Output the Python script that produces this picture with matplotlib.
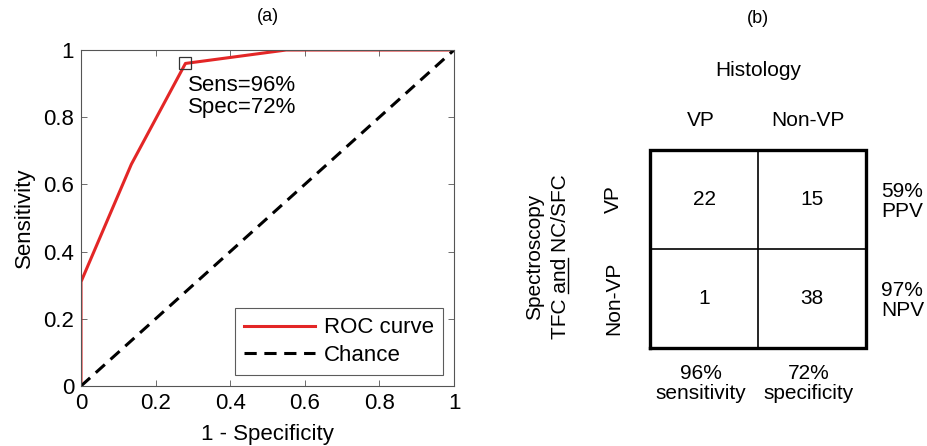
import matplotlib.pyplot as plt
from matplotlib.lines import Line2D

plt.rcParams['font.family'] = ['Liberation Sans', 'DejaVu Sans']

# ROC curve data (a)
fpr = [0.0, 0.0, 0.135, 0.28, 0.55, 1.0]
tpr = [0.0, 0.31, 0.66, 0.96, 1.0, 1.0]
chance = [0.0, 1.0]
op_point = (0.28, 0.96)
ticks = [0, 0.2, 0.4, 0.6, 0.8, 1]
tick_labels = ['0', '0.2', '0.4', '0.6', '0.8', '1']

# confusion table (b)
counts = [[22, 15], [1, 38]]
col_labels = ['VP', 'Non-VP']
row_labels = ['VP', 'Non-VP']
row_stats = ['59%\nPPV', '97%\nNPV']
col_stats = ['96%\nsensitivity', '72%\nspecificity']

fig = plt.figure(figsize=(9.27, 4.46), dpi=100)

# ---- panel (a)
big = 16
ax = fig.add_axes([81 / 927, 60 / 446, 373 / 927, 336 / 446])
ax.plot(fpr, tpr, color='#e32626', lw=2.2, label='ROC curve')
ax.plot(chance, chance, color='black', lw=2.2, ls=(0, (4, 2.5)), label='Chance')
ax.plot(*op_point, marker='s', ms=8, mfc='none', mec='#333333', mew=0.9)
ax.text(0.288, 0.925, 'Sens=96%\nSpec=72%', fontsize=big, va='top', ha='left',
        linespacing=1.05)
ax.set_xlim(0, 1)
ax.set_ylim(0, 1)
ax.set_xticks(ticks)
ax.set_xticklabels(tick_labels)
ax.set_yticks(ticks)
ax.set_yticklabels(tick_labels)
ax.tick_params(direction='in', top=True, right=True, labelsize=big, length=4,
               width=0.6, color='#555555', pad=5)
for s in ax.spines.values():
    s.set_color('#555555')
    s.set_linewidth(0.8)
ax.set_xlabel('1 - Specificity', fontsize=big, labelpad=7)
ax.set_ylabel('Sensitivity', fontsize=big, labelpad=6)
ax.set_title('(a)', fontsize=13, pad=21)
leg = ax.legend(loc='lower right', fontsize=big, fancybox=False, edgecolor='#333333',
                handlelength=3.2, borderaxespad=0.5, labelspacing=0.3,
                borderpad=0.4, handletextpad=0.4)
leg.get_frame().set_linewidth(0.8)

# ---- panel (b)
fs = 15
ax2 = fig.add_axes([650 / 927, 98 / 446, 216 / 927, 198 / 446])
ax2.set_xlim(0, 2)
ax2.set_ylim(0, 2)
ax2.axis('off')
ax2.plot([0, 2, 2, 0, 0], [0, 0, 2, 2, 0], color='black', lw=2.4, clip_on=False,
         solid_joinstyle='miter')
ax2.plot([1, 1], [0, 2], color='black', lw=1.2)
ax2.plot([0, 2], [1, 1], color='black', lw=1.2)

for i in range(2):
    for j in range(2):
        ax2.text(j + 0.5, 1.5 - i, str(counts[i][j]), fontsize=fs, ha='center', va='center')
for j, lab in enumerate(col_labels):
    ax2.text(j + 0.5 - (0.03 if j == 0 else 0.04), 2.30, lab, fontsize=fs, ha='center', va='center')
for i, lab in enumerate(row_labels):
    ax2.text(-0.34, 1.5 - i, lab, fontsize=fs, ha='center', va='center', rotation=90)
for i, lab in enumerate(row_stats):
    ax2.text(2.14, 1.48 - i, lab, fontsize=fs, ha='left', va='center', linespacing=1.05)
for j, lab in enumerate(col_stats):
    ax2.text(j + 0.47, -0.36, lab, fontsize=fs, ha='center', va='center', linespacing=1.1)
ax2.text(1.0, 2.80, 'Histology', fontsize=fs, ha='center', va='center')
ax2.text(-1.07, 0.92, 'Spectroscopy', fontsize=fs, ha='center', va='center', rotation=90)
tfc = ax2.text(-0.83, 0.92, 'TFC and NC/SFC', fontsize=fs, ha='center', va='center',
               rotation=90)

# underline "and" (text runs upward, so the underline sits to its right)
fig.canvas.draw()
r = fig.canvas.get_renderer()
def text_len(s):
    t = ax2.text(0, 0, s, fontsize=fs)
    w = t.get_window_extent(r).width
    t.remove()
    return w
bb = tfc.get_window_extent(r)
y_start = bb.y0 + text_len('TFC ')
y_end = bb.y0 + text_len('TFC and')
x_ul = bb.x1 - 2
inv = ax2.transData.inverted()
(x0d, y0d), (x1d, y1d) = inv.transform([(x_ul, y_start), (x_ul, y_end)])
ax2.add_line(Line2D([x0d, x1d], [y0d, y1d], color='black', lw=1.0, clip_on=False))

ax2.text(1.0, 3.33, '(b)', fontsize=13, ha='center', va='center')

fig.savefig('out.png', dpi=100)
